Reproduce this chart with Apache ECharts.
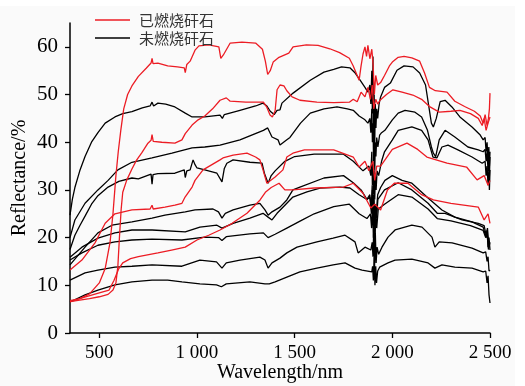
<!DOCTYPE html>
<html><head><meta charset="utf-8">
<script src="https://cdn.jsdelivr.net/npm/echarts@6/dist/echarts.min.js"></script>
<style>html,body{margin:0;padding:0;background:#fff}#c{width:525px;height:386px}</style>
</head><body><div id="c"></div>
<script>
const xTicks = [500, 1000, 1500, 2000, 2500];
const yTicks = [0, 10, 20, 30, 40, 50, 60];
const legendNames = ['已燃烧矸石', '未燃烧矸石'];

// burned (red)
const burned1 = [[350,6.8],[400,7.2],[450,8.2],[500,10.5],[530,13.5],[555,19],[570,25],[585,33],[597,38],[610,42.5],[625,47],[645,50],[667,51.8],[700,53.8],[740,55.5],[765,56.6],[770,57.6],[775,56.5],[800,56.6],[850,56],[900,55.8],[935,55.6],[940,54.6],[948,56.3],[965,57],[990,59.3],[1010,60.2],[1060,60.4],[1112,60],[1122,57.6],[1135,58.3],[1170,60.8],[1230,61],[1300,60.8],[1335,59.5],[1350,57],[1362,54.2],[1375,55],[1390,56.8],[1420,57.8],[1470,58.7],[1492,60],[1560,60.4],[1620,60.3],[1680,59.6],[1730,58.8],[1780,57.6],[1800,56],[1820,54],[1830,53],[1840,56],[1850,58.5],[1860,60],[1868,58],[1875,60.3],[1885,57.5],[1895,59.5],[1902,56],[1908,50],[1915,54],[1925,52],[1940,52.5],[1960,54],[1985,56],[2000,56.8],[2030,57.8],[2060,58],[2100,57.7],[2140,57],[2165,54.5],[2190,51.5],[2220,50.8],[2280,50.5],[2320,48.6],[2370,47.5],[2420,46.5],[2450,45.5],[2465,44],[2475,45.8],[2485,43.5],[2492,45],[2497,47],[2500,50.3]];
const burned2 = [[350,6.6],[400,6.9],[450,7.2],[500,7.6],[545,8.1],[570,9],[585,10.5],[595,14],[603,20],[612,26],[620,29.5],[640,32],[667,34.4],[690,36.2],[718,37.8],[749,39.8],[765,40.4],[770,41.6],[776,40.2],[820,40],[887,39.8],[923,40.5],[940,41.8],[975,43.6],[1006,44.7],[1040,45.5],[1080,47],[1118,48.8],[1150,49.3],[1170,48.6],[1250,48.4],[1340,48.4],[1358,47.3],[1374,45.7],[1386,45.3],[1400,46.6],[1410,51],[1425,52],[1445,51.8],[1460,50.8],[1487,49.5],[1527,48.8],[1614,48.4],[1700,48.3],[1780,48.4],[1800,49],[1820,48.5],[1840,50.5],[1860,49.5],[1875,51.5],[1888,49],[1897,52],[1905,47],[1915,49],[1925,48],[1937,48.8],[1970,50],[2003,51],[2050,50.5],[2105,49.9],[2150,49],[2193,47.4],[2240,46.3],[2300,46.5],[2346,46.7],[2400,46],[2440,45],[2460,43.5],[2470,45],[2480,42.5],[2490,44],[2500,45.3]];
const burned3 = [[350,13.2],[411,15.3],[478,18.9],[530,23],[580,25],[667,25.8],[760,26],[770,26.8],[776,26],[836,26.4],[887,26.8],[923,27.2],[939,28.5],[975,30.6],[990,32],[1031,34.2],[1118,36.3],[1133,36.7],[1185,37.3],[1256,37.7],[1300,36.9],[1322,36.3],[1338,34.2],[1358,31.4],[1400,32.7],[1440,34.2],[1460,36.9],[1491,37.7],[1550,38.4],[1700,38.4],[1800,36.9],[1830,34.8],[1860,36],[1880,34],[1900,36],[1910,32],[1920,35],[1940,35],[2000,38.5],[2075,39.8],[2130,38.5],[2177,36.9],[2280,35.6],[2380,34.8],[2434,32.1],[2470,33],[2490,31],[2500,32]];
const burned4 = [[350,6.5],[425,7.5],[500,8.4],[550,9],[575,11],[600,13.5],[620,14.7],[660,15.6],[700,16],[800,16.8],[870,17.4],[940,18],[1000,19.5],[1060,20.5],[1118,21.6],[1180,23],[1256,25.1],[1323,27.9],[1350,29.5],[1380,30.5],[1420,31.4],[1450,30],[1490,30],[1600,30.4],[1750,30.6],[1800,31.4],[1850,29.3],[1890,26.2],[1910,27],[1940,25.8],[1975,30],[2010,31.4],[2080,31.4],[2150,29],[2210,27.9],[2300,27.2],[2440,26.4],[2470,23.7],[2490,25],[2500,23]];

// unburned (black)
const unburned1 = [[350,24.7],[362,28],[375,30.5],[400,34],[427,37],[460,40],[493,42],[530,44],[580,45.3],[620,46],[667,46.4],[720,47.2],[760,47.6],[770,48.4],[778,47.6],[800,48.2],[840,48],[887,47.4],[940,46.1],[975,45.3],[1040,45.3],[1118,45.7],[1130,45],[1140,45.8],[1220,46.7],[1300,47.6],[1338,48.2],[1358,47.6],[1375,46.5],[1395,45.8],[1410,46.7],[1425,46.8],[1435,48.2],[1492,50.3],[1580,53],[1650,54.7],[1700,55.3],[1740,55.8],[1783,55.6],[1810,54.5],[1835,53],[1860,51.5],[1875,50.5],[1885,52],[1890,48],[1895,55],[1898,46],[1901,58],[1904,42],[1907,50],[1910,40],[1913,48],[1916,43],[1920,47],[1925,45],[1932,48],[1940,49.5],[1960,51.5],[1990,52.4],[2024,55.1],[2060,56],[2106,55.8],[2140,54.5],[2170,52],[2185,48],[2200,44],[2210,43.2],[2225,45],[2245,48.5],[2270,48.8],[2305,47.4],[2346,45.3],[2408,43.2],[2450,41.5],[2465,40.5],[2475,41],[2480,38],[2485,40],[2490,36],[2494,39],[2497,35],[2500,38]];
const unburned2 = [[350,20],[375,23.7],[427,27.2],[493,30],[545,32],[595,34.2],[667,35.8],[770,36.7],[872,37.7],[975,38.8],[1040,39],[1118,39.4],[1220,40.5],[1340,42.5],[1362,43],[1384,41.1],[1415,40.5],[1425,39.4],[1460,40.5],[1476,41],[1530,44],[1580,46.1],[1650,47],[1717,47.4],[1770,47],[1800,46.7],[1830,45.5],[1860,44.7],[1875,44],[1885,45],[1890,42],[1895,47],[1898,40],[1901,44],[1904,36],[1907,43],[1910,34],[1913,40],[1916,37],[1920,41],[1926,39],[1935,41.5],[1945,42],[1962,42.5],[2000,44.7],[2030,46.1],[2065,46.7],[2116,46.3],[2150,45.3],[2180,42.5],[2200,39],[2210,37.7],[2222,37],[2240,40.5],[2270,42.5],[2320,41.1],[2387,39],[2440,38.4],[2465,38],[2475,38.5],[2480,36],[2485,38],[2490,34],[2494,37],[2497,33],[2500,36.9]];
const unburned3 = [[350,17.5],[375,20.5],[400,22.5],[427,24.5],[460,27],[493,28.8],[545,30.6],[600,31.8],[667,32.5],[700,32.3],[765,33.3],[770,31.2],[775,33.2],[800,33.4],[887,33.5],[935,34.2],[940,32.6],[948,34],[965,34.2],[980,36.3],[990,35.3],[1000,34.6],[1040,34.2],[1102,33.5],[1128,31.7],[1140,34.5],[1153,35.6],[1185,36.3],[1271,35.8],[1333,35.6],[1345,33.5],[1364,31.4],[1380,33],[1400,34],[1450,36],[1500,37],[1600,37.5],[1750,37.5],[1800,36],[1850,34],[1880,35],[1890,33],[1895,38],[1898,31],[1901,36],[1904,29],[1907,34],[1910,28],[1913,33],[1917,30],[1922,34],[1930,33],[1945,36],[1960,38],[2000,40.5],[2030,42.5],[2100,43.2],[2150,42.5],[2183,40.5],[2208,36.9],[2228,36.7],[2254,39],[2285,39.4],[2336,38.4],[2408,36.9],[2460,35.6],[2475,36],[2480,33],[2485,35],[2490,31],[2494,34],[2497,30],[2500,34.2]];
const unburned4 = [[350,14.3],[427,18],[493,21],[565,22.6],[667,23.3],[770,24.1],[836,24.7],[940,25.4],[990,25.8],[1082,26],[1110,25.4],[1128,24.1],[1145,25.1],[1185,25.8],[1271,26.8],[1322,27.2],[1348,25.8],[1364,24.7],[1384,25.4],[1425,26.4],[1460,27.9],[1491,30],[1527,30.6],[1650,32.5],[1750,33],[1800,31.5],[1840,30],[1870,28],[1885,29],[1892,26],[1897,31],[1901,24],[1905,29],[1909,22],[1913,27],[1918,25],[1925,29],[1940,30.5],[1962,32],[2000,33],[2050,32],[2100,31.4],[2183,28.3],[2254,25.8],[2320,24.3],[2408,23.3],[2465,22.2],[2475,22.5],[2480,20],[2485,21.5],[2490,18],[2495,20],[2500,17.4]];
const unburned5 = [[350,15.9],[411,18],[493,19.9],[580,21],[667,21.6],[770,21.6],[940,21.2],[1015,22.2],[1102,22.6],[1128,22],[1185,23],[1271,24.1],[1338,25.1],[1364,24.3],[1384,23.7],[1410,25.1],[1460,27.2],[1491,28.5],[1563,29.6],[1630,30.4],[1733,30.6],[1783,30.4],[1830,29],[1870,28],[1885,28.5],[1893,25],[1898,30],[1902,23],[1906,28],[1910,21],[1914,27],[1919,24],[1926,28],[1960,30],[2030,31.5],[2100,30],[2183,27.2],[2230,25.1],[2270,25.1],[2357,23.7],[2440,23],[2470,22.5],[2480,20.5],[2487,22],[2493,19],[2500,18.9]];
const unburned6 = [[350,15.3],[411,16.8],[493,18.4],[580,19.1],[667,19.5],[770,19.7],[923,19.5],[1040,20.1],[1110,20],[1128,19.4],[1150,20.2],[1271,20.8],[1340,21],[1364,20],[1400,20.7],[1460,22],[1530,23.5],[1600,25],[1700,26.5],[1780,27],[1830,25],[1870,24],[1888,25],[1894,22],[1899,27],[1903,20],[1907,26],[1911,19],[1915,25],[1920,22],[1928,26],[1960,27],[2030,29],[2100,28.5],[2183,26],[2230,24],[2300,23.5],[2400,22.5],[2465,21.5],[2478,20],[2485,21],[2492,17.5],[2500,19]];
const unburned7 = [[350,11.1],[427,12.6],[493,13.2],[580,13.8],[667,14],[770,14.3],[923,14],[1015,15.3],[1100,14.9],[1128,13.6],[1150,14.7],[1220,15.3],[1322,15.9],[1348,15.3],[1364,13.6],[1384,14.7],[1425,15.7],[1460,16.8],[1512,18],[1614,19.1],[1697,19.9],[1758,20.5],[1809,19.1],[1825,16.8],[1860,18],[1890,17.4],[1897,19],[1901,16],[1905,22],[1909,14],[1913,21],[1917,14.7],[1922,18],[1930,16.5],[1947,18],[1978,20.1],[2014,21.6],[2100,22.6],[2152,22.2],[2203,20.1],[2218,18],[2240,19.1],[2306,18.9],[2408,17.8],[2465,16.8],[2478,17],[2485,15],[2490,16],[2495,13],[2500,13.2]];
const unburned8 = [[350,6.5],[427,8],[493,9],[580,10.1],[667,10.7],[770,11.1],[850,11.1],[923,10.7],[1015,10.3],[1100,10.1],[1125,9.7],[1150,10.3],[1271,10.7],[1348,10.3],[1370,10.3],[1400,10.7],[1460,11.7],[1527,12.8],[1614,13.6],[1697,14.3],[1758,14.7],[1809,13.6],[1845,13.2],[1895,12.8],[1899,14],[1903,11],[1907,16],[1911,10],[1915,14],[1919,10.5],[1925,13],[1935,13.8],[1978,14.7],[2014,15.3],[2100,15.5],[2183,14.7],[2218,13.6],[2254,14.3],[2320,13.8],[2408,13.6],[2465,12.8],[2478,13],[2485,10.5],[2490,12],[2495,8],[2500,6.3]];

const redSeries = [burned1, burned2, burned3, burned4];
const blackSeries = [unburned1, unburned2, unburned3, unburned4, unburned5, unburned6, unburned7, unburned8];

const RED = '#ec1c24', BLACK = '#000000';
const series = [];
blackSeries.forEach(d => series.push({name: legendNames[1], type:'line', data:d, symbol:'none', lineStyle:{color:BLACK,width:1.3}, itemStyle:{color:BLACK}, z:2}));
redSeries.forEach(d => series.push({name: legendNames[0], type:'line', data:d, symbol:'none', lineStyle:{color:RED,width:1.3}, itemStyle:{color:RED}, z:3}));

const font = '"Liberation Serif","Times New Roman",serif';
const chart = echarts.init(document.getElementById('c'), null, {renderer:'canvas'});
chart.setOption({
  backgroundColor: '#ffffff',
  animation: false,
  graphic: [{type:'rect', shape:{x:0,y:6,width:515,height:380}, style:{fill:'#fafafa'}, z:-10, silent:true}],
  legend: {
    data: legendNames, orient:'vertical', left: 90, top: 6, itemGap: 0, itemWidth: 35, itemHeight: 1.6,
    icon: 'rect',
    textStyle: {fontFamily:'"Noto Sans CJK SC"', fontSize:15, lineHeight:18, color:'#333', padding:[0,0,0,4]}
  },
  grid: {left:70, right:35, top:23, bottom:53, containLabel:false, outerBoundsMode:'none'},
  xAxis: {
    type:'value', min:350, max:2500,
    name:'Wavelength/nm', nameLocation:'middle', nameGap:30, nameMoveOverlap:false,
    nameTextStyle:{fontFamily:font, fontSize:20, color:'#000'},
    axisLine:{lineStyle:{color:'#000', width:1.5}},
    axisTick:{show:true, length:5, customValues: xTicks, lineStyle:{color:'#000',width:1.3}},
    axisLabel:{customValues: xTicks, fontFamily:font, fontSize:19, color:'#000', margin:11,
      formatter: v => v >= 1000 ? Math.floor(v/1000) + ' ' + String(v%1000).padStart(3,'0') : String(v)},
    splitLine:{show:false}
  },
  yAxis: {
    type:'value', min:0, max:65,
    name:'Reflectance/%', nameLocation:'middle', nameGap:40, nameRotate:90, nameMoveOverlap:false,
    nameTextStyle:{fontFamily:font, fontSize:20, color:'#000'},
    axisLine:{show:true, lineStyle:{color:'#000', width:1.5}},
    axisTick:{show:true, length:5, customValues: yTicks, lineStyle:{color:'#000',width:1.3}},
    axisLabel:{customValues: yTicks, fontFamily:font, fontSize:21, color:'#000', margin:12},
    splitLine:{show:false}
  },
  series: series
});
</script></body></html>
